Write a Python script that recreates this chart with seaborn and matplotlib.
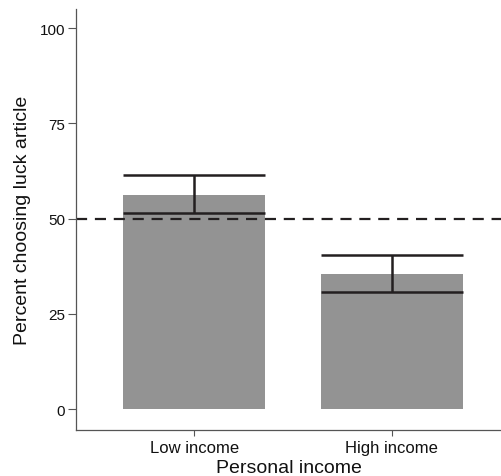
import pandas as pd
import matplotlib.pyplot as plt
import seaborn as sns

# data
groups = ['Low income', 'High income']
percent = [56.2, 35.5]
ci_low = [51.4, 30.7]
ci_high = [61.4, 40.4]
chance = 50

df = pd.DataFrame({'income': groups, 'percent': percent})

sns.set_style('ticks')
plt.rcParams['font.family'] = ['Liberation Sans', 'DejaVu Sans']
plt.rcParams['text.color'] = '#111111'
plt.rcParams['axes.labelcolor'] = '#111111'
plt.rcParams['xtick.labelcolor'] = '#111111'
plt.rcParams['ytick.labelcolor'] = '#111111'

fig = plt.figure(figsize=(5.02, 4.77), dpi=100)
ax = fig.add_axes([0.1514, 0.0964, 0.8486, 0.8826])

bar_w = 0.72
sns.barplot(x='income', y='percent', data=df, color='#939393', width=bar_w,
            saturation=1, errorbar=None, ax=ax, zorder=1, linewidth=0)

# error bars with caps as wide as the bars
pos = list(range(len(groups)))
ax.vlines(pos, ci_low, ci_high, color='#231f20', lw=1.8, zorder=3)
for lo_hi in (ci_low, ci_high):
    ax.hlines(lo_hi, [p - bar_w / 2 for p in pos], [p + bar_w / 2 for p in pos],
              color='#231f20', lw=1.8, zorder=3)

# chance line
ax.axhline(chance, color='#231f20', lw=1.6, ls=(0, (5, 3.5)), zorder=2)

ax.set_xlim(-0.6, 1.56)
ax.set_ylim(-5.5, 105)
ax.set_yticks([0, 25, 50, 75, 100])
ax.set_xlabel('Personal income', fontsize=14, labelpad=3)
ax.set_ylabel('Percent choosing luck article', fontsize=14, labelpad=6)
ax.tick_params(axis='y', labelsize=11, length=6, width=0.8, color='#555555', pad=2)
ax.tick_params(axis='x', labelsize=12, length=4, width=0.8, color='#555555', pad=3)
for s in ['left', 'bottom']:
    ax.spines[s].set_color('#555555')
    ax.spines[s].set_linewidth(0.9)
sns.despine(ax=ax)

plt.savefig('out.png', dpi=100)
